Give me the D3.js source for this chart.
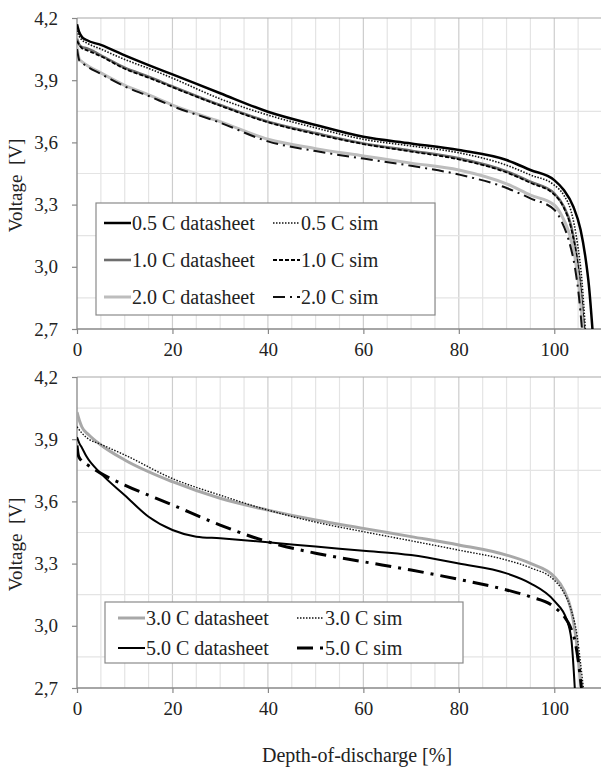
<!DOCTYPE html>
<html>
<head>
<meta charset="utf-8">
<script src="https://d3js.org/d3.v7.min.js"></script>
<style>
  body { margin: 0; background: #fff; }
  text { font-family: "Liberation Serif", "Times New Roman", serif; fill: #222; }
</style>
</head>
<body>
<div id="chart"></div>
<script>
// DoD [%] / voltage [V] pairs
const c05ds = [[0,4.17],[0.5,4.13],[1,4.11],[2,4.094],[5,4.07],[10,4.02],[15,3.973],[20,3.928],[30,3.837],[40,3.748],[50,3.684],[60,3.627],[70,3.595],[80,3.563],[90,3.515],[95,3.467],[100,3.418],[102,3.37],[104,3.29],[105.5,3.18],[106.5,3.05],[107.3,2.9],[108,2.7]];
const c05sim = [[0,4.14],[0.5,4.11],[1,4.095],[2,4.08],[5,4.05],[10,4.0],[15,3.957],[20,3.91],[30,3.81],[40,3.732],[50,3.67],[60,3.615],[70,3.583],[80,3.55],[90,3.49],[95,3.443],[100,3.394],[102,3.345],[103.5,3.27],[104.8,3.12],[105.8,2.93],[106.5,2.7]];
const c10ds = [[0,4.10],[0.5,4.07],[1,4.06],[2,4.054],[5,4.02],[10,3.96],[15,3.917],[20,3.87],[30,3.78],[40,3.70],[50,3.645],[60,3.595],[70,3.56],[80,3.523],[90,3.46],[95,3.41],[100,3.354],[102,3.29],[103.5,3.2],[104.7,3.05],[105.5,2.9],[106.2,2.7]];
const c10sim = [[0,4.09],[1,4.055],[2,4.045],[5,4.015],[10,3.955],[15,3.912],[20,3.866],[30,3.777],[40,3.697],[50,3.64],[60,3.592],[70,3.556],[80,3.518],[90,3.455],[95,3.405],[100,3.348],[102,3.285],[103.5,3.19],[104.8,3.03],[105.6,2.88],[106.3,2.7]];
const c20ds = [[0,4.06],[0.5,4.0],[1,3.99],[2,3.973],[5,3.935],[10,3.875],[15,3.829],[20,3.78],[30,3.70],[40,3.615],[50,3.57],[60,3.535],[70,3.50],[80,3.467],[90,3.40],[95,3.346],[100,3.298],[101.5,3.25],[103,3.17],[104.3,3.05],[105.3,2.88],[106,2.7]];
const c20sim = [[0,4.05],[0.5,3.995],[1,3.985],[2,3.968],[5,3.93],[10,3.87],[15,3.824],[20,3.775],[30,3.695],[40,3.605],[50,3.558],[60,3.522],[70,3.487],[80,3.445],[90,3.38],[95,3.33],[100,3.275],[101.5,3.22],[103,3.13],[104.3,3.0],[105.2,2.85],[105.8,2.7]];

const c30ds = [[0,4.03],[0.5,3.99],[1,3.96],[2.5,3.92],[5,3.872],[10,3.80],[20,3.695],[30,3.615],[40,3.558],[50,3.51],[60,3.47],[70,3.43],[80,3.39],[90,3.341],[95,3.301],[100,3.237],[102,3.173],[103.5,3.08],[104.5,2.95],[105.2,2.8],[105.6,2.7]];
const c30sim = [[0,3.96],[1,3.93],[2.5,3.9],[5,3.875],[10,3.824],[20,3.71],[30,3.63],[40,3.558],[50,3.50],[60,3.454],[70,3.41],[80,3.365],[90,3.317],[95,3.28],[100,3.22],[102,3.16],[103.5,3.08],[104.8,2.95],[105.5,2.82],[106.1,2.7]];
const c50ds = [[0,3.91],[0.5,3.88],[1,3.86],[2,3.816],[5,3.735],[10,3.63],[15,3.526],[20,3.462],[25,3.43],[30,3.422],[40,3.403],[50,3.382],[60,3.362],[70,3.341],[80,3.30],[90,3.253],[95,3.205],[100,3.12],[102.6,3.03],[103.6,2.93],[104.3,2.7]];
const c50sim = [[0,3.87],[0.3,3.82],[0.8,3.80],[2,3.78],[5,3.735],[10,3.679],[20,3.583],[30,3.486],[40,3.405],[50,3.35],[60,3.309],[70,3.269],[80,3.224],[90,3.173],[95,3.14],[100,3.09],[103.9,2.964],[105,2.835],[105.7,2.7]];

const yTicks = [2.7, 3.0, 3.3, 3.6, 3.9, 4.2];
const yGrid = [2.85, 3.15, 3.45, 3.75, 4.05];
const xTicks = [0, 20, 40, 60, 80, 100];

const width = 601, height = 770;
const svg = d3.select("#chart").append("svg")
  .attr("width", width).attr("height", height);

const x = d3.scaleLinear([0, 110], [77, 602]);
const line = (yScale) => d3.line().x(d => x(d[0])).y(d => yScale(d[1])).curve(d3.curveMonotoneX);

function panel(top, bottom, series, legend, id) {
  const y = d3.scaleLinear([2.7, 4.2], [bottom, top]);
  const g = svg.append("g");

  // grid
  d3.range(5, 111, 5).forEach(v => {
    g.append("line").attr("x1", x(v)).attr("x2", x(v)).attr("y1", top).attr("y2", bottom)
      .attr("stroke", v % 20 == 0 ? "#cdcdcd" : "#e4e4e4").attr("stroke-width", 1.2);
  });
  yGrid.forEach(v => {
    g.append("line").attr("x1", x(0)).attr("x2", x(110)).attr("y1", y(v)).attr("y2", y(v))
      .attr("stroke", "#e4e4e4").attr("stroke-width", 1.2);
  });
  g.append("line").attr("x1", x(0)).attr("x2", x(110)).attr("y1", top).attr("y2", top)
    .attr("stroke", "#a8a8a8").attr("stroke-width", 1.2);

  // axes
  const yAxis = g.append("g").attr("transform", `translate(${x(0)},0)`)
    .call(d3.axisLeft(y).tickValues(yTicks).tickSize(5).tickFormat(d => d3.format(".1f")(d).replace(".", ",")));
  const xAxis = g.append("g").attr("transform", `translate(0,${bottom})`)
    .call(d3.axisBottom(x).tickValues(xTicks).tickSize(5).tickFormat(d3.format("d")));
  [yAxis, xAxis].forEach(a => {
    a.select(".domain").attr("stroke", "#888").attr("stroke-width", 1.3);
    a.selectAll(".tick line").attr("stroke", "#888").attr("stroke-width", 1.2);
    a.selectAll("text").attr("font-size", 19).attr("fill", "#222")
      .style("font-family", '"Liberation Serif", serif');
  });
  yAxis.select(".domain").attr("d", `M0,${bottom}V${top}`);
  yAxis.selectAll(".tick text").attr("x", -19);
  xAxis.select(".domain").attr("d", `M${x(0)},0H${x(110)}`);
  xAxis.selectAll(".tick text").attr("y", 14);

  svg.append("defs").append("clipPath").attr("id", id)
    .append("rect").attr("x", x(0)).attr("y", top).attr("width", x(110) - x(0)).attr("height", bottom - top);

  const lines = g.append("g").attr("clip-path", `url(#${id})`);
  series.forEach(s => {
    lines.append("path").datum(s.data)
      .attr("d", line(y))
      .attr("fill", "none")
      .attr("stroke", s.color)
      .attr("stroke-width", s.w)
      .attr("stroke-dasharray", s.dash || null);
  });

  // legend
  const lg = g.append("g");
  lg.append("rect").attr("x", legend.x0).attr("y", legend.y0)
    .attr("width", legend.x1 - legend.x0).attr("height", legend.y1 - legend.y0)
    .attr("fill", "#fff").attr("stroke", "#8a8a8a").attr("stroke-width", 1.2);
  series.forEach((s, i) => {
    const col = i % 2, row = Math.floor(i / 2);
    const lx = legend.cols[col], ly = legend.rows[row];
    lg.append("line").attr("x1", lx).attr("x2", lx + 27).attr("y1", ly).attr("y2", ly)
      .attr("stroke", s.color).attr("stroke-width", s.w).attr("stroke-dasharray", s.dash || null);
    lg.append("text").attr("x", lx + 28).attr("y", ly).attr("dy", "0.35em")
      .attr("font-size", 20).text(s.name);
  });

  svg.append("text")
    .attr("transform", `translate(22,${(top + bottom) / 2 + 12}) rotate(-90)`)
    .attr("text-anchor", "middle").attr("font-size", 19)
    .style("white-space", "pre")
    .text("Voltage  [V]");
}

panel(18, 329, [
  {name: "0.5 C datasheet", data: c05ds, color: "#000", w: 2.5},
  {name: "0.5 C sim", data: c05sim, color: "#111", w: 1.6, dash: "1.5,1.5"},
  {name: "1.0 C datasheet", data: c10ds, color: "#6e6e6e", w: 2.6},
  {name: "1.0 C sim", data: c10sim, color: "#000", w: 1.8, dash: "4,2"},
  {name: "2.0 C datasheet", data: c20ds, color: "#bdbdbd", w: 3},
  {name: "2.0 C sim", data: c20sim, color: "#111", w: 2, dash: "12,5,2,5"}
], {x0: 96, x1: 435, y0: 203, y1: 315, cols: [104, 273], rows: [223, 260, 297]}, "clipTop");

panel(377, 688, [
  {name: "3.0 C datasheet", data: c30ds, color: "#a8a8a8", w: 3},
  {name: "3.0 C sim", data: c30sim, color: "#111", w: 1.4, dash: "1.5,1.5"},
  {name: "5.0 C datasheet", data: c50ds, color: "#000", w: 2},
  {name: "5.0 C sim", data: c50sim, color: "#000", w: 3, dash: "16,7,3,7"}
], {x0: 105, x1: 463, y0: 602, y1: 663, cols: [118, 297], rows: [618, 648]}, "clipBottom");

svg.append("text")
  .attr("x", 357).attr("y", 762)
  .attr("text-anchor", "middle").attr("font-size", 20)
  .text("Depth-of-discharge [%]");
</script>
</body>
</html>
